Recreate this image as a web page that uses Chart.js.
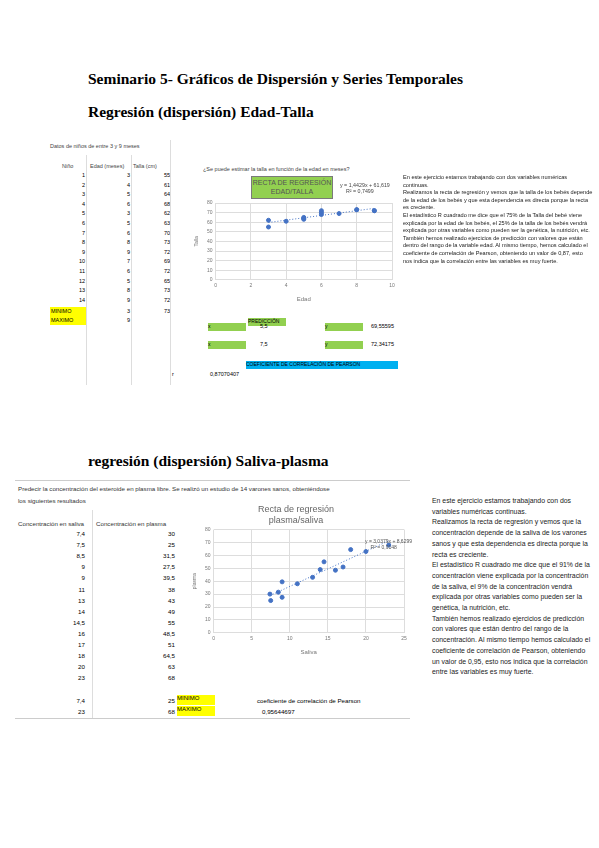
<!DOCTYPE html>
<html><head><meta charset="utf-8">
<script src="https://cdn.jsdelivr.net/npm/chart.js@4"></script>
<style>
body{margin:0;background:#fff;font-family:"Liberation Sans",Arial,sans-serif;}
#page{position:relative;width:599px;height:848px;}
.a{position:absolute;white-space:nowrap;}
h1,h2{position:absolute;margin:0;font-family:"Liberation Serif",serif;font-weight:bold;}
.tx{position:absolute;color:#222;white-space:normal;}
.r{text-align:right;}
</style></head><body><div id="page">
<h1 style="left:88px;top:70px;font-size:15.5px">Seminario 5- Gráficos de Dispersión y Series Temporales</h1>
<h2 style="left:88px;top:103px;font-size:15.5px">Regresión (dispersión) Edad-Talla</h2>

<div class="a" style="left:50px;top:143px;font-size:5.5px;color:#444">Datos de niños de entre 3 y 9 meses</div>
<div class="a" style="left:62px;top:163px;font-size:5.5px;color:#444">Niño</div>
<div class="a" style="left:90px;top:163px;font-size:5.5px;color:#444">Edad (meses)</div>
<div class="a" style="left:133px;top:163px;font-size:5.5px;color:#444">Talla (cm)</div>
<div id="t1"></div>
<div class="a" style="left:50px;top:307px;width:37px;height:9px;background:#ffff00"></div>
<div class="a" style="left:50px;top:316px;width:37px;height:9px;background:#ffff00"></div>
<div class="a" style="left:51px;top:308px;font-size:5.5px">MINIMO</div>
<div class="a" style="left:51px;top:317px;font-size:5.5px">MAXIMO</div>
<div class="a r" style="left:100px;top:308px;width:30px;font-size:5.5px">3</div>
<div class="a r" style="left:140px;top:308px;width:30px;font-size:5.5px">73</div>
<div class="a r" style="left:100px;top:317px;width:30px;font-size:5.5px">9</div>
<div style="position:absolute;left:86px;top:155px;width:1px;height:230px;background:#ddd"></div>
<div style="position:absolute;left:131px;top:155px;width:1px;height:230px;background:#ddd"></div>
<div style="position:absolute;left:170px;top:140px;width:1px;height:245px;background:#ddd"></div>

<div class="a" style="left:203px;top:166px;font-size:5.5px;color:#444">¿Se puede estimar la talla en función de la edad en meses?</div>
<div style="position:absolute;left:190px;top:175px;width:210px;height:132px">
<canvas id="c1" width="210" height="132"></canvas></div>
<div class="a" style="left:251px;top:176px;width:80px;height:20px;background:#92d050;border:1px solid #7a7a7a;font-size:7px;color:#555;text-align:center;line-height:9px;padding-top:1px">RECTA DE REGRESIÓN<br>EDAD/TALLA</div>
<div class="a" style="left:340px;top:182px;font-size:5.3px;color:#444">y = 1,4429x + 61,619<br>&nbsp;&nbsp;&nbsp;&nbsp;R² = 0,7499</div>

<div class="a" style="left:248px;top:318px;width:38px;height:8px;background:#92d050;font-size:5px">PREDICCIÓN</div>
<div class="a" style="left:208px;top:323px;width:38px;height:8px;background:#92d050;font-size:5px">x</div>
<div class="a" style="left:325px;top:323px;width:38px;height:8px;background:#92d050;font-size:5px">y</div>
<div class="a" style="left:260px;top:323px;font-size:5.5px">5,5</div>
<div class="a" style="left:371px;top:323px;font-size:5.5px">69,55595</div>
<div class="a" style="left:208px;top:341px;width:38px;height:8px;background:#92d050;font-size:5px">x</div>
<div class="a" style="left:325px;top:341px;width:38px;height:8px;background:#92d050;font-size:5px">y</div>
<div class="a" style="left:260px;top:341px;font-size:5.5px">7,5</div>
<div class="a" style="left:371px;top:341px;font-size:5.5px">72,34175</div>
<div class="a" style="left:246px;top:361px;width:152px;height:8px;background:#00b0f0;font-size:5px">COEFICIENTE DE CORRELACIÓN DE PEARSON</div>
<div class="a" style="left:210px;top:371px;font-size:5.5px">0,87070407</div>
<div class="a" style="left:172px;top:371px;font-size:5.5px">r</div>

<div class="tx" style="left:403px;top:174px;width:190px;font-size:5.6px;line-height:7.6px">En este ejercicio estamos trabajando con dos variables numéricas continuas.<br>Realizamos la recta de regresión y vemos que la talla de los bebés depende de la edad de los bebés y que esta dependencia es directa porque la recta es creciente.<br>El estadístico R cuadrado me dice que el 75% de la Talla del bebé viene explicada por la edad de los bebés, el 25% de la talla de los bebés vendrá explicada por otras variables como pueden ser la genética, la nutrición, etc.<br>También hemos realizado ejercicios de predicción con valores que están dentro del rango de la variable edad. Al mismo tiempo, hemos calculado el coeficiente de correlación de Pearson, obteniendo un valor de 0,87, esto nos indica que la correlación entre las variables es muy fuerte.</div>

<h2 style="left:88px;top:452px;font-size:15.5px">regresión (dispersión) Saliva-plasma</h2>
<div style="position:absolute;left:15px;top:480px;width:395px;height:1px;background:#ccc"></div>
<div class="a" style="left:18px;top:485px;font-size:6.2px;color:#333">Predecir la concentración del esteroide en plasma libre. Se realizó un estudio de 14 varones sanos, obteniéndose</div>
<div class="a" style="left:18px;top:497px;font-size:6.2px;color:#333">los siguientes resultados</div>
<div class="a" style="left:18px;top:520px;font-size:6.2px;color:#333">Concentración en saliva</div>
<div class="a" style="left:96px;top:520px;font-size:6.2px;color:#333">Concentración en plasma</div>
<div id="t2"></div>
<div class="a r" style="left:50px;top:697px;width:35px;font-size:6.2px">7,4</div>
<div class="a r" style="left:50px;top:708px;width:35px;font-size:6.2px">23</div>
<div class="a r" style="left:140px;top:697px;width:35px;font-size:6.2px">25</div>
<div class="a r" style="left:140px;top:708px;width:35px;font-size:6.2px">68</div>
<div class="a" style="left:177px;top:695px;width:38px;height:10px;background:#ffff00;font-size:6px">MINIMO</div>
<div class="a" style="left:177px;top:706px;width:38px;height:10px;background:#ffff00;font-size:6px">MAXIMO</div>
<div class="a" style="left:257px;top:697px;font-size:6.2px">coeficiente de correlación de Pearson</div>
<div class="a" style="left:262px;top:708px;font-size:6.2px">0,95644697</div>
<div style="position:absolute;left:92px;top:510px;width:1px;height:208px;background:#ddd"></div>
<div style="position:absolute;left:15px;top:718px;width:395px;height:1px;background:#ccc"></div>

<div style="position:absolute;left:188px;top:500px;width:222px;height:160px;background:#fff">
<canvas id="c2" width="222" height="160"></canvas></div>
<div class="a" style="left:365px;top:538px;font-size:5px;color:#555">y = 3,0379x + 8,6299<br>&nbsp;&nbsp;&nbsp;&nbsp;R² = 0,9148</div>

<div class="tx" style="left:432px;top:496px;width:160px;font-size:6.9px;line-height:10.7px">En este ejercicio estamos trabajando con dos variables numéricas continuas.<br>Realizamos la recta de regresión y vemos que la concentración depende de la saliva de los varones sanos y que esta dependencia es directa porque la recta es creciente.<br>El estadístico R cuadrado me dice que el 91% de la concentración viene explicada por la concentración de la saliva, el 9% de la concentración vendrá explicada por otras variables como pueden ser la genética, la nutrición, etc.<br>También hemos realizado ejercicios de predicción con valores que están dentro del rango de la concentración. Al mismo tiempo hemos calculado el coeficiente de correlación de Pearson, obteniendo un valor de 0,95, esto nos indica que la correlación entre las variables es muy fuerte.</div>
</div>
<script>
// datos edad-talla
const ninos = [1,2,3,4,5,6,7,8,9,10,11,12,13,14]
const edad = [3,4,5,6,3,5,6,8,9,7,6,5,8,9]
const talla = [55,61,64,68,62,63,70,73,72,69,72,65,73,72]
// datos saliva-plasma
const saliva = [7.4,7.5,8.5,9,9,11,13,14,14.5,16,17,18,20,23]
const plasma = [30,25,31.5,27.5,39.5,38,43,49,55,48.5,51,64.5,63,68]

function fillTable(id, cols, top, step, fs){
  let html = ""
  for (let i = 0; i < cols[0].v.length; i++){
    for (let c = 0; c < cols.length; c++){
      let v = String(cols[c].v[i]).replace(".", ",")
      html += '<div class="a r" style="left:' + cols[c].x + 'px;top:' + (top + i*step) + 'px;width:30px;font-size:' + fs + 'px">' + v + '</div>'
    }
  }
  document.getElementById(id).innerHTML = html
}
fillTable("t1", [{v:ninos,x:55},{v:edad,x:100},{v:talla,x:140}], 172, 9.6, 5.5)
fillTable("t2", [{v:saliva,x:55},{v:plasma,x:145}], 530, 11.1, 6.2)

function fit(xs, ys){
  let n = xs.length, sx = 0, sy = 0, sxy = 0, sxx = 0
  for (let i = 0; i < n; i++){ sx += xs[i]; sy += ys[i]; sxy += xs[i]*ys[i]; sxx += xs[i]*xs[i] }
  let m = (n*sxy - sx*sy) / (n*sxx - sx*sx)
  return [m, (sy - m*sx)/n]
}

function scatter(id, xs, ys, opts){
  let f = fit(xs, ys)
  let x0 = Math.min(...xs), x1 = Math.max(...xs)
  new Chart(document.getElementById(id), {
    type: "scatter",
    data: {datasets: [
      {data: xs.map((x,i)=>({x:x, y:ys[i]})), backgroundColor:"#4472c4", borderColor:"#4472c4", pointRadius:2},
      {type:"line", data:[{x:x0,y:f[0]*x0+f[1]},{x:x1,y:f[0]*x1+f[1]}], borderColor:"#4472c4", borderWidth:1, borderDash:[1,2], pointRadius:0}
    ]},
    options: {
      responsive:false, animation:false,
      layout:{padding:opts.pad},
      plugins:{legend:{display:false}, tooltip:{enabled:false},
        title:{display:!!opts.title, text:opts.title, color:"#666", font:{size:9, weight:"normal"}, padding:{top:2,bottom:4}}},
      scales:{
        x:{type:"linear", min:0, max:opts.xmax, ticks:{stepSize:opts.xstep, font:{size:5}, color:"#777"},
           grid:{display:true, color:"#ddd", drawTicks:false}, border:{display:false},
           title:{display:true, text:opts.xl, font:{size:6}, color:"#777"}},
        y:{min:0, max:80, ticks:{stepSize:10, font:{size:5}, color:"#777"},
           grid:{color:"#ddd", drawTicks:false}, border:{display:false},
           title:{display:true, text:opts.yl, font:{size:5}, color:"#777"}}
      }
    }
  })
}
scatter("c1", edad, talla, {xmax:10, xstep:2, xl:"Edad", yl:"Talla", pad:{top:28,right:8}})
scatter("c2", saliva, plasma, {xmax:25, xstep:5, xl:"Saliva", yl:"plasma", pad:{right:6,top:2}, title:["Recta de regresión","plasma/saliva"]})
</script>
</body></html>
